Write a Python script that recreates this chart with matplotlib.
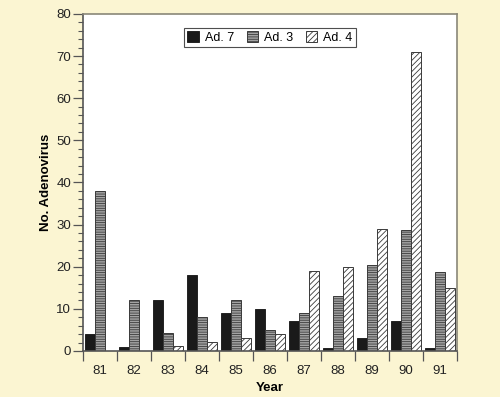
import numpy as np
import matplotlib
matplotlib.use("Agg")
import matplotlib.pyplot as plt
from matplotlib.ticker import MultipleLocator, FixedLocator, NullFormatter

plt.rcParams['font.family'] = ['Liberation Sans', 'DejaVu Sans']
plt.rcParams['hatch.linewidth'] = 0.6

years = ['81', '82', '83', '84', '85', '86', '87', '88', '89', '90', '91']
ad7 = [4, 1, 12, 18, 9, 10, 7, 0.7, 3, 7, 0.7]
ad3 = [38, 12, 4.3, 8, 12, 5, 9, 13, 20.5, 28.7, 18.7]
ad4 = [0, 0, 1.1, 2.2, 3, 4.1, 18.9, 20, 28.9, 71, 15]

bg = '#fbf5d2'
x = np.arange(len(years))
w = 0.285

fig = plt.figure(figsize=(5, 3.97), dpi=100, facecolor=bg)
ax = fig.add_axes([0.166, 0.116, 0.748, 0.849])

ax.bar(x - w, ad7, w, color='#1a1a1a', edgecolor='#222222', linewidth=0.7, label='Ad. 7')
ax.bar(x, ad3, w, color='#a3a3a3', edgecolor='#3a3a3a', linewidth=0.7,
       hatch='-------', label='Ad. 3')
ax.bar(x + w, ad4, w, color='white', edgecolor='#3a3a3a', linewidth=0.7,
       hatch='//////', label='Ad. 4')

ax.set_xlim(-0.5, len(years) - 0.5)
ax.set_ylim(0, 80)

# ticks at the category boundaries, labels in the middle
ax.xaxis.set_major_locator(FixedLocator(np.arange(-0.5, len(years), 1.0)))
ax.xaxis.set_major_formatter(NullFormatter())
ax.xaxis.set_minor_locator(FixedLocator(x))
ax.set_xticklabels(years, minor=True)
ax.tick_params(axis='x', which='major', length=7, width=0.9, color='#555555')
ax.tick_params(axis='x', which='minor', length=0, pad=10, labelsize=9.5, colors='#222222')

ax.yaxis.set_major_locator(MultipleLocator(10))
ax.yaxis.set_minor_locator(MultipleLocator(2))
ax.tick_params(axis='y', which='major', length=7, width=0.9, color='#555555',
               labelsize=9.5, labelcolor='#222222', pad=1.5)
ax.tick_params(axis='y', which='minor', length=3.5, width=0.8, color='#555555')

for s in ax.spines.values():
    s.set_color('#8a8778')
    s.set_linewidth(1.2)
ax.spines['left'].set_color('#555555')
ax.spines['bottom'].set_color('#555555')

ax.set_xlabel('Year', fontweight='bold', fontsize=9.5, labelpad=4)
ax.set_ylabel('No. Adenovirus', fontweight='bold', fontsize=9.5, labelpad=3)

leg = ax.legend(loc='upper center', bbox_to_anchor=(0.5, 0.965), ncol=3, fontsize=9,
                frameon=True, fancybox=False, handlelength=0.9, handleheight=0.9,
                handletextpad=0.5, columnspacing=1.0, borderpad=0.25,
                borderaxespad=0.2)
leg.get_frame().set_edgecolor('#222222')
leg.get_frame().set_linewidth(0.8)

fig.savefig('out.png', dpi=100, facecolor=bg)
